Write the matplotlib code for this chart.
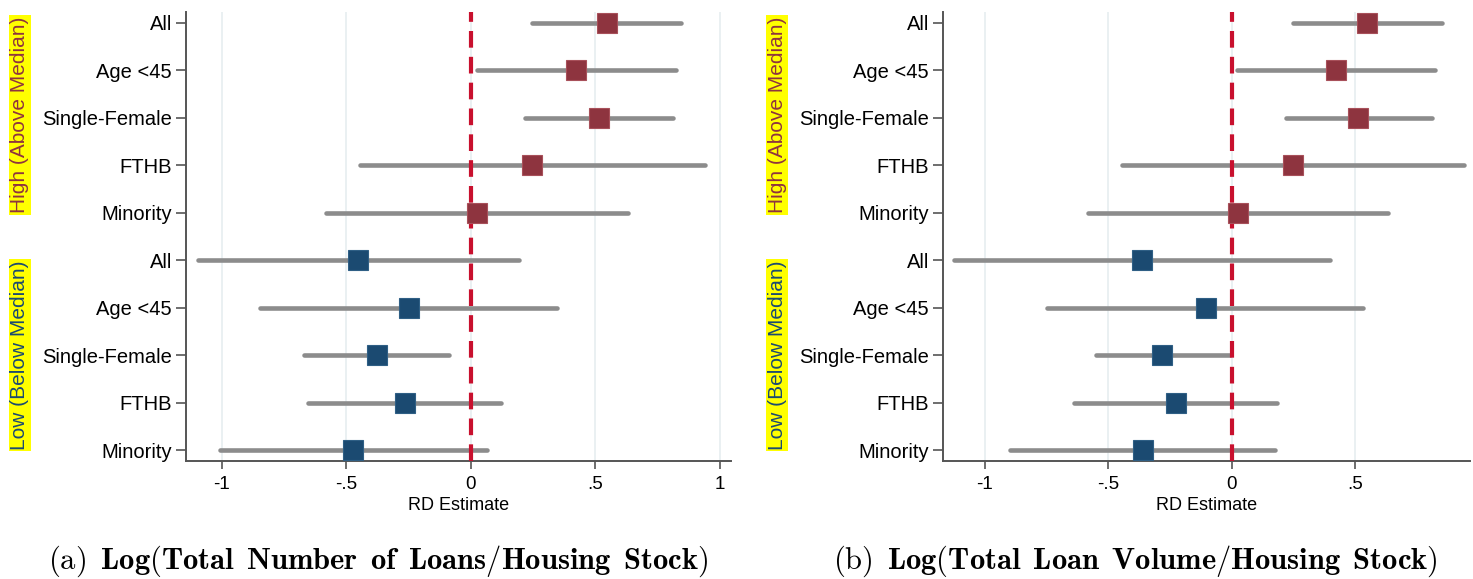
import matplotlib
matplotlib.use("Agg")
import matplotlib.pyplot as plt
import numpy as np

plt.rcParams['font.family'] = ['Liberation Sans', 'DejaVu Sans']
plt.rcParams['mathtext.fontset'] = 'cm'

groups = ["All", "Age <45", "Single-Female", "FTHB", "Minority"]
ylabels = groups + groups

# Panel (a): Log(Total Number of Loans/Housing Stock)
a_high_est = [0.546, 0.423, 0.514, 0.245, 0.025]
a_high_lo = [0.245, 0.025, 0.217, -0.444, -0.582]
a_high_hi = [0.846, 0.823, 0.812, 0.939, 0.631]
a_low_est = [-0.451, -0.249, -0.378, -0.264, -0.472]
a_low_lo = [-1.095, -0.846, -0.669, -0.653, -1.008]
a_low_hi = [0.195, 0.346, -0.089, 0.121, 0.064]

# Panel (b): Log(Total Loan Volume/Housing Stock)
b_high_est = [0.548, 0.423, 0.513, 0.246, 0.024]
b_high_lo = [0.246, 0.022, 0.218, -0.445, -0.584]
b_high_hi = [0.850, 0.822, 0.811, 0.942, 0.633]
b_low_est = [-0.364, -0.105, -0.281, -0.227, -0.360]
b_low_lo = [-1.125, -0.747, -0.550, -0.641, -0.899]
b_low_hi = [0.399, 0.532, -0.007, 0.185, 0.175]

a_xticks = [-1, -0.5, 0, 0.5, 1]
a_xticklabels = ["-1", "-.5", "0", ".5", "1"]
b_xticks = [-1, -0.5, 0, 0.5]
b_xticklabels = ["-1", "-.5", "0", ".5"]

caption_tags = ["(a)", "(b)"]
caption_titles = ["Log(Total Number of Loans/Housing Stock)",
                  "Log(Total Loan Volume/Housing Stock)"]


def caption_math(tag, title):
    body = title.replace(" ", r"\ \,")
    return r"$\mathrm{" + tag + r"}\ \,\mathbf{" + body + "}$"


HIGH = "#8e343f"
LOW = "#1b4a71"
CI = "#8c8c8c"
ZERO = "#c8102e"
GRID = "#e6eef0"
SPINE = "#555555"

fig = plt.figure(figsize=(14.73, 5.79), dpi=100)

panels = [
    dict(pos=[186/1473, 1-461/579, (731-186)/1473, (461-12)/579], xlim=(-1.143, 1.045),
         data=(a_high_est, a_high_lo, a_high_hi, a_low_est, a_low_lo, a_low_hi),
         ticks=a_xticks, ticklabels=a_xticklabels,
         lab_x=20/1473, cap_x=378/1473),
    dict(pos=[943/1473, 1-461/579, (1470-943)/1473, (461-12)/579], xlim=(-1.170, 0.965),
         data=(b_high_est, b_high_lo, b_high_hi, b_low_est, b_low_lo, b_low_hi),
         ticks=b_xticks, ticklabels=b_xticklabels,
         lab_x=777/1473, cap_x=1135/1473),
]

for i, p in enumerate(panels):
    ax = fig.add_axes(p['pos'])
    he, hl, hh, le, ll, lh = p['data']
    yh = np.arange(5)
    yl = np.arange(5, 10)
    for x in p['ticks']:
        ax.axvline(x, color=GRID, lw=1.2, zorder=0)
    ax.hlines(yh, hl, hh, color=CI, lw=3.3, capstyle='round', zorder=2)
    ax.hlines(yl, ll, lh, color=CI, lw=3.3, capstyle='round', zorder=2)
    ax.axvline(0, color=ZERO, lw=3, dashes=(4, 2.2), zorder=3)
    ax.plot(he, yh, 's', color=HIGH, ms=14.5, mec="#a8505a", mew=0.8, zorder=4, linestyle='none')
    ax.plot(le, yl, 's', color=LOW, ms=14.5, mec="#2f5f85", mew=0.8, zorder=4, linestyle='none')
    ax.set_xlim(*p['xlim'])
    ax.set_ylim(9.23, -0.23)
    ax.set_yticks(np.arange(10))
    ax.set_yticklabels(ylabels, fontsize=14.5)
    ax.set_xticks(p['ticks'])
    ax.set_xticklabels(p['ticklabels'], fontsize=13.5)
    ax.set_xlabel("RD Estimate", fontsize=13, labelpad=3)
    for s in ['top', 'right']:
        ax.spines[s].set_visible(False)
    for s in ['left', 'bottom']:
        ax.spines[s].set_color(SPINE)
        ax.spines[s].set_linewidth(1.4)
    ax.tick_params(axis='y', length=7, width=1.2, color=SPINE, pad=3)
    ax.tick_params(axis='x', length=6, width=1.2, color=SPINE, pad=5)
    ax.set_facecolor('white')

    fig.text(p['lab_x'], 1-115/579, "High (Above Median)", rotation=90, fontsize=15,
             color=HIGH, ha='center', va='center',
             bbox=dict(facecolor='#ffff00', edgecolor='none', pad=1.0))
    fig.text(p['lab_x'], 1-355/579, "Low (Below Median)", rotation=90, fontsize=15,
             color=LOW, ha='center', va='center',
             bbox=dict(facecolor='#ffff00', edgecolor='none', pad=1.0))
    fig.text(p['cap_x'], 1-561/579, caption_math(caption_tags[i], caption_titles[i]),
             fontsize=22, ha='center', va='center')

fig.savefig("out.png", dpi=100, facecolor='white')
